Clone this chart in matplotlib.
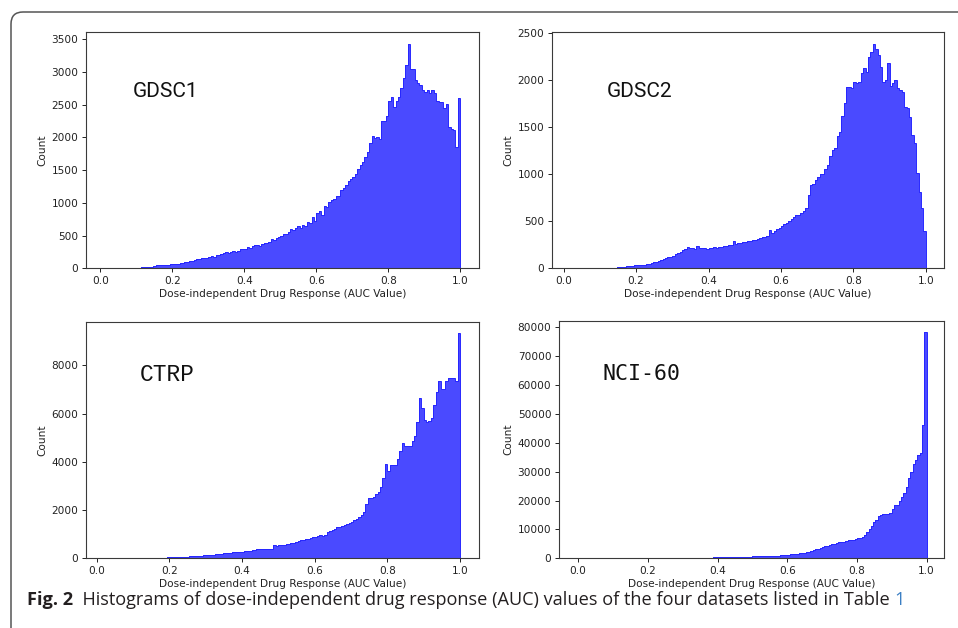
import numpy as np
import matplotlib
matplotlib.use("Agg")
import matplotlib.pyplot as plt
from matplotlib.patches import FancyBboxPatch
from matplotlib.transforms import IdentityTransform

# ---------------- data (150 bins over 0..1) ----------------
n_bins = 150
bin_edges = np.linspace(0.0, 1.0, n_bins + 1)

gdsc1_counts = [
    0, 0, 0, 0, 0, 0, 0, 0, 0, 0,
    3, 5, 6, 8, 8, 10, 12, 14, 16, 18,
    22, 26, 32, 45, 48, 52, 55, 56, 58, 60,
    65, 70, 72, 80, 88, 92, 100, 105, 115, 120,
    135, 140, 150, 155, 160, 175, 185, 170, 200, 210,
    225, 235, 245, 230, 255, 260, 250, 270, 290, 300,
    300, 320, 310, 340, 350, 360, 345, 370, 390, 385,
    400, 440, 430, 470, 480, 490, 530, 520, 560, 600,
    590, 620, 650, 610, 660, 650, 700, 690, 790, 720,
    840, 880, 820, 950, 930, 1020, 1040, 1060, 1110, 1100,
    1200, 1230, 1270, 1330, 1358, 1400, 1440, 1510, 1577, 1628,
    1704, 1780, 1918, 2019, 1984, 2009, 1968, 2253, 2253, 2325,
    2558, 2620, 2457, 2558, 2620, 2747, 2900, 3100, 3433, 3037,
    3037, 2874, 2833, 2798, 2721, 2696, 2721, 2670, 2721, 2670,
    2558, 2543, 2543, 2441, 2508, 2162, 2126, 2111, 1857, 2604,
]

gdsc2_counts = [
    0, 0, 0, 0, 0, 0, 0, 0, 0, 0,
    0, 0, 0, 0, 0, 0, 2, 3,
    5, 6, 8, 8, 10,
    12, 14, 18, 20,
    25, 28, 30,
    32, 35, 36, 40,
    45, 50, 55,
    62, 68, 75,
    85, 95, 110,
    115, 125, 135,
    150, 165, 178,
    195, 200,
    222, 210, 212, 205, 237,
    215, 210, 212, 208, 215,
    220, 225, 218, 230, 228,
    235, 240, 245, 250, 290,
    258, 265, 270, 275, 280,
    285, 290, 300, 305, 310,
    320, 330, 335, 345, 406,
    370, 400, 415, 430, 445,
    470, 480, 500, 520, 540,
    560, 570, 590, 610, 635,
    777, 880, 890, 935,
    971, 999, 999, 1049, 1095,
    1190, 1254, 1271, 1402, 1448,
    1614, 1755, 1917, 1917, 1907,
    1977, 1960, 1977, 2066, 2119,
    2083, 2242, 2295, 2383, 2330,
    2260, 2129, 1977, 1995, 2172,
    1931, 1960, 1995, 1907, 1889,
    1871, 1710, 1700, 1600, 1412,
    1331, 1006, 812, 636, 395,
]

ctrp_counts = [
    0, 0, 0, 0, 0, 0, 0, 0, 0, 0,
    0, 0, 0, 0, 0, 0, 0, 0, 0, 0,
    3, 10, 12, 15, 18,
    20, 25, 28, 32, 35,
    40, 42, 48, 52, 55,
    58, 62, 70, 75, 85,
    90, 95, 105, 110, 118,
    125, 135, 140, 150, 160,
    175, 185, 210, 215, 225,
    235, 245, 255, 260, 270,
    275, 285, 300, 310, 330,
    350, 365, 375, 380, 370,
    370, 365, 372, 540, 530,
    550, 560, 545, 580, 600,
    620, 640, 665, 700, 740,
    760, 790, 820, 850, 870,
    900, 920, 950, 940, 980,
    1080, 1120, 1180, 1230, 1310,
    1290, 1340, 1390, 1440, 1480,
    1520, 1570, 1620, 1700, 1800,
    1900, 2250, 2500, 2520, 2550, 2650, 2750, 2975, 3320, 3900,
    3640, 3850, 3850, 3870, 4125, 4430,
    4775, 4664, 4637, 4660, 4844,
    5052, 5633, 6644, 6228, 5744,
    5633, 5675, 5813, 6367, 6879,
    7336, 7031, 7017, 7336, 7474,
    7474, 7474, 7336, 9343,
]

nci60_counts = [0] * 52 + [
    150, 180,
    200, 230, 235, 270, 280, 310, 320, 350, 355, 390, 400, 430, 440, 470,
    475, 510, 520, 550, 560, 590, 600, 640, 650, 690, 700, 730, 760, 790,
    800, 850, 870, 900,
    950, 1020, 1080, 1150, 1300, 1350, 1400, 1450, 1550,
    1700, 1750, 1900, 2200, 2300, 2400, 2800, 3100, 3300, 3700,
    3900, 4250, 4300, 4700, 4850, 4950, 5400, 5600, 5750, 5800,
    6000, 6300, 6400, 6500, 6700, 6900, 7200, 7300, 8000, 9000,
    10000, 11300, 12500, 13300, 14700, 15030, 15200, 15380, 15400, 15840,
    17000, 18500, 18500, 19880, 21160, 22770, 24850, 27750, 30060, 32720,
    34100, 35840, 36400, 46240, 78300,
]

titles = ["GDSC1", "GDSC2", "CTRP", "NCI-60"]
all_counts = [gdsc1_counts, gdsc2_counts, ctrp_counts, nci60_counts]
y_ticks = [
    [0, 500, 1000, 1500, 2000, 2500, 3000, 3500],
    [0, 500, 1000, 1500, 2000, 2500],
    [0, 2000, 4000, 6000, 8000],
    [0, 10000, 20000, 30000, 40000, 50000, 60000, 70000, 80000],
]
x_ticks = [0.0, 0.2, 0.4, 0.6, 0.8, 1.0]
x_label = "Dose-independent Drug Response (AUC Value)"
y_label = "Count"
caption_bold = "Fig. 2"
caption_text = "  Histograms of dose-independent drug response (AUC) values of the four datasets listed in Table "
caption_link = "1"

for c in all_counts:
    assert len(c) == n_bins, len(c)

# ---------------- layout ----------------
W, H = 958, 628
fig = plt.figure(figsize=(W / 100, H / 100), dpi=100)
fig.patch.set_facecolor("white")

def frac(l, t, r, b):
    return [l / W, 1 - b / H, (r - l) / W, (b - t) / H]

rects = [
    frac(86, 32.3, 479, 268.3),
    frac(552, 32.3, 944, 268.3),
    frac(86, 321.7, 478.5, 558.3),
    frac(559, 321, 944, 558.3),
]
xlims = [(-0.040, 1.052), (-0.032, 1.050), (-0.029, 1.051), (-0.055, 1.050)]
label_pos = [(0.12, 0.75), (0.14, 0.75), (0.137, 0.775), (0.112, 0.776)]
label_fonts = [
    dict(family=["Roboto", "Liberation Sans", "DejaVu Sans"], fontsize=15),
    dict(family=["Roboto", "Liberation Sans", "DejaVu Sans"], fontsize=15),
    dict(family=["Liberation Mono", "DejaVu Sans Mono"], fontsize=16.5),
    dict(family=["DejaVu Sans Mono"], fontsize=15.5),
]

fill_color = (0.29, 0.29, 1.0)
edge_color = (0.15, 0.15, 1.0)
spine_color = "#3a3a3a"

for i, (rect, counts) in enumerate(zip(rects, all_counts)):
    ax = fig.add_axes(rect)
    ax.stairs(counts, bin_edges, fill=True, color=fill_color, linewidth=0)
    ax.stairs(counts, bin_edges, fill=False, color=edge_color, linewidth=0.7)
    ax.set_xlim(*xlims[i])
    ax.set_ylim(0, max(counts) * 1.05)
    ax.set_xticks(x_ticks)
    ax.set_xticklabels([f"{v:.1f}" for v in x_ticks])
    ax.set_yticks(y_ticks[i])
    ax.set_yticklabels([str(v) for v in y_ticks[i]])
    ax.tick_params(labelsize=7.6, length=3, width=0.7, colors="#222222", pad=2.5)
    for s in ax.spines.values():
        s.set_color(spine_color)
        s.set_linewidth(0.8)
    ax.set_xlabel(x_label, fontsize=7.6, color="#222222", labelpad=2)
    ax.set_ylabel(y_label, fontsize=7.6, color="#222222", labelpad=3)
    ax.text(label_pos[i][0], label_pos[i][1], titles[i], transform=ax.transAxes,
            ha="left", va="center", color="#111111", **label_fonts[i])

# frame (rounded box, cut off at right and bottom)
frame = FancyBboxPatch((11, -30), 1000, (H - 12) + 30,
                       boxstyle="round,pad=0,rounding_size=12",
                       transform=IdentityTransform(), facecolor="none",
                       edgecolor="#555555", linewidth=1.1)
fig.patches.append(frame)

# caption
cap_y = 1 - 600 / H
cap_family = ["Open Sans", "Noto Sans", "DejaVu Sans"]
cap_size = 13.1
renderer = fig.canvas.get_renderer()
t1 = fig.text(27 / W, cap_y, caption_bold, fontsize=cap_size, fontweight="bold",
              family=cap_family, color="#231f20", va="center", ha="left")
bb = t1.get_window_extent(renderer)
t2 = fig.text(bb.x1 / W, cap_y, caption_text, fontsize=cap_size,
              family=cap_family, color="#231f20", va="center", ha="left")
bb2 = t2.get_window_extent(renderer)
fig.text(bb2.x1 / W, cap_y, caption_link, fontsize=cap_size,
         family=cap_family, color="#3b7fc4", va="center", ha="left")

fig.savefig("out.png", dpi=100, facecolor="white")
